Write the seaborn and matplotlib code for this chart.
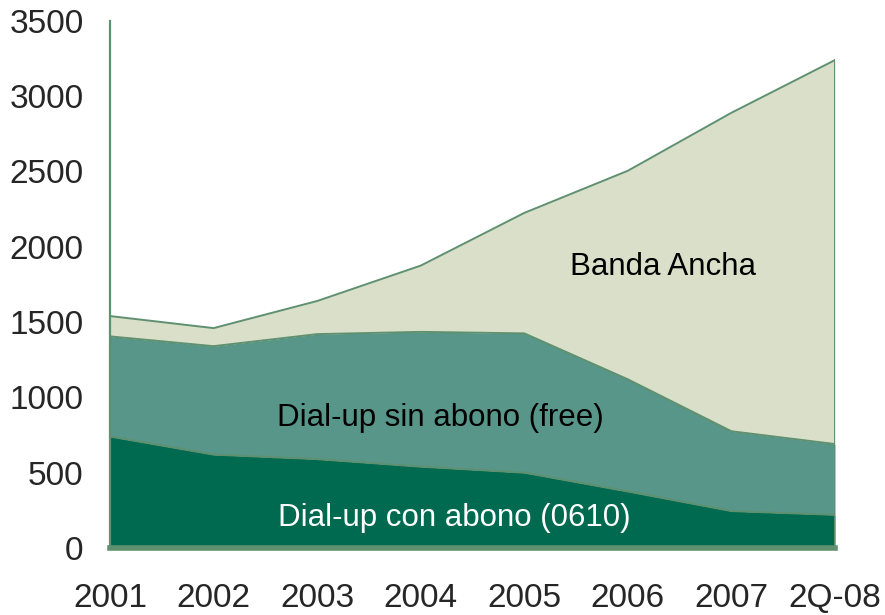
import numpy as np
import pandas as pd
import matplotlib
matplotlib.use("Agg")
import matplotlib.pyplot as plt
import seaborn as sns

# categories and series
periods = ["2001", "2002", "2003", "2004", "2005", "2006", "2007", "2Q-08"]
con_abono = [740, 620, 590, 540, 500, 375, 245, 220]
sin_abono = [665, 720, 830, 895, 925, 745, 530, 470]
banda_ancha = [135, 120, 220, 440, 800, 1385, 2115, 2550]

c_dark = "#006a50"
c_mid = "#579689"
c_light = "#dadfca"
c_edge = "#5f906f"

sns.set_style("white")
plt.rcParams["font.family"] = ["Liberation Sans", "DejaVu Sans"]

x = np.arange(len(periods))
s1 = np.array(con_abono)
s2 = s1 + np.array(sin_abono)
s3 = s2 + np.array(banda_ancha)

df = pd.DataFrame({
    "x": np.tile(x, 3),
    "y": np.concatenate([s1, s2, s3]),
    "serie": np.repeat(["con", "sin", "banda"], len(x)),
})

fig = plt.figure(figsize=(8.85, 6.15), dpi=100)
ax = fig.add_axes([0.1243, 0.109, 0.8192, 0.857])

ax.fill_between(x, 0, s1, color=c_dark, lw=0)
ax.fill_between(x, s1, s2, color=c_mid, lw=0)
ax.fill_between(x, s2, s3, color=c_light, lw=0)
sns.lineplot(data=df, x="x", y="y", hue="serie", palette=[c_edge] * 3,
             legend=False, lw=1.4, ax=ax)
ax.plot([x[-1], x[-1]], [0, s3[-1]], color=c_edge, lw=1.4)

ax.text(5.34, 1863, "Banda Ancha", fontsize=22.5, ha="center", va="center", color="black")
ax.text(3.19, 865, "Dial-up sin abono (free)", fontsize=22.5, ha="center", va="center", color="black")
ax.text(3.32, 200, "Dial-up con abono (0610)", fontsize=22.5, ha="center", va="center", color="white")

ax.set_xlim(0, len(periods) - 1)
ax.set_ylim(0, 3500)
ax.set_yticks(np.arange(0, 3501, 500))
ax.set_xticks(x)
ax.set_xticklabels(periods)
ax.set_xlabel("")
ax.set_ylabel("")

for side in ["top", "right"]:
    ax.spines[side].set_visible(False)
ax.spines["left"].set_color(c_edge)
ax.spines["left"].set_linewidth(1.6)
ax.spines["bottom"].set_color(c_edge)
ax.spines["bottom"].set_linewidth(4)

ax.tick_params(axis="y", direction="in", length=7, width=1.5, color=c_edge,
               labelsize=24, pad=19)
ax.tick_params(axis="x", direction="in", length=7, width=2.5, color=c_edge,
               labelsize=24, pad=25)

fig.savefig("out.png", dpi=100)
